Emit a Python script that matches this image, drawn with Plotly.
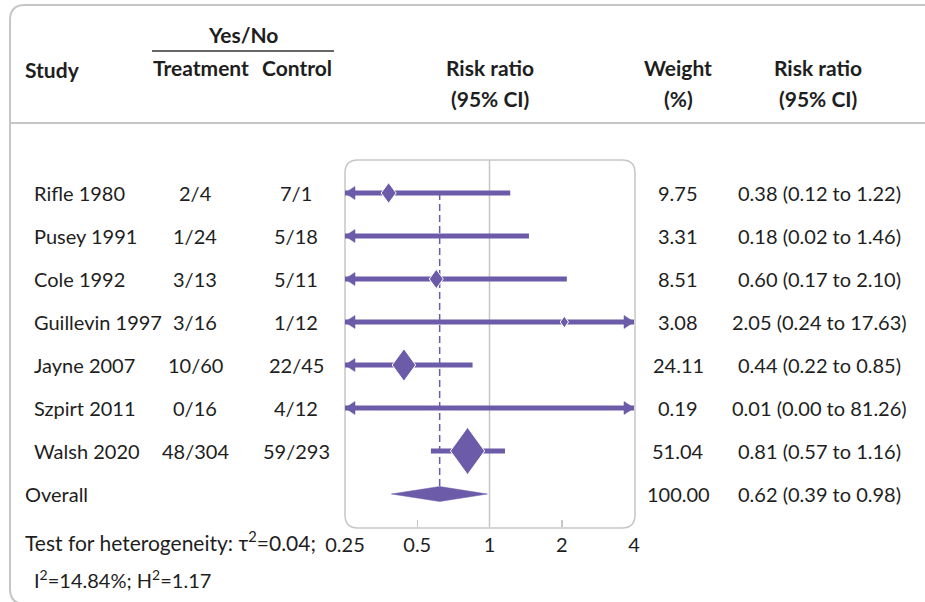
import math
import plotly.graph_objects as go

# ---------------- data ----------------
studies = ["Rifle 1980", "Pusey 1991", "Cole 1992", "Guillevin 1997",
           "Jayne 2007", "Szpirt 2011", "Walsh 2020"]
treatment = ["2/4", "1/24", "3/13", "3/16", "10/60", "0/16", "48/304"]
control = ["7/1", "5/18", "5/11", "1/12", "22/45", "4/12", "59/293"]
rr = [0.38, 0.18, 0.60, 2.05, 0.44, 0.01, 0.81]
rr_lo = [0.12, 0.02, 0.17, 0.24, 0.22, 0.00, 0.57]
rr_hi = [1.22, 1.46, 2.10, 17.63, 0.85, 81.26, 1.16]
weights = [9.75, 3.31, 8.51, 3.08, 24.11, 0.19, 51.04]

overall_label = "Overall"
overall_rr, overall_lo, overall_hi, overall_w = 0.62, 0.39, 0.98, 100.00

tick_vals = [0.25, 0.5, 1, 2, 4]
tick_text = ["0.25", "0.5", "1", "2", "4"]
minor_tick_vals = [0.5, 2]

# ---------------- layout constants ----------------
W, H = 925, 602
BOX_L, BOX_R, BOX_T, BOX_B = 345, 634, 160, 527
ROW0, ROW_STEP = 193, 43
X_MIN, X_MAX = tick_vals[0], tick_vals[-1]
PURPLE = "#6b5ba8"
GRAY = "#c6c6c6"
TEXT = "#1e1e1e"
FONT = "Lato"
FS = 20
HFS = 21

px_per_oct = (BOX_R - BOX_L) / math.log2(X_MAX / X_MIN)
y_top = -(ROW0 - BOX_T) / ROW_STEP
y_bot = (BOX_B - ROW0) / ROW_STEP


def xoff(x, dpx):
    return x * 2 ** (dpx / px_per_oct)


def yoff(dpx):
    return dpx / ROW_STEP


def P(x, y):
    return f"{x / W:.5f},{1 - y / H:.5f}"


def round_rect(x0, y0, x1, y1, r):
    return (f"M{P(x0 + r, y0)} L{P(x1 - r, y0)} Q{P(x1, y0)} {P(x1, y0 + r)} "
            f"L{P(x1, y1 - r)} Q{P(x1, y1)} {P(x1 - r, y1)} L{P(x0 + r, y1)} "
            f"Q{P(x0, y1)} {P(x0, y1 - r)} L{P(x0, y0 + r)} Q{P(x0, y0)} {P(x0 + r, y0)} Z")


fig = go.Figure()

# reference line at 1
fig.add_trace(go.Scatter(x=[1, 1], y=[y_top, y_bot], mode="lines",
                         line=dict(color=GRAY, width=1.5), hoverinfo="skip"))

n = len(studies)
ov_row = n
ov_half_h = yoff(7.5)

# dashed overall line
fig.add_trace(go.Scatter(x=[overall_rr, overall_rr], y=[0, ov_row - ov_half_h],
                         mode="lines", line=dict(color=PURPLE, width=1.5, dash="7px,4px"),
                         hoverinfo="skip"))

ARROW_LEN, ARROW_HALF = 10, 6.5

for i in range(n):
    x0 = max(rr_lo[i], X_MIN)
    x1 = min(rr_hi[i], X_MAX)
    fig.add_trace(go.Scatter(x=[x0, x1], y=[i, i], mode="lines",
                             line=dict(color=PURPLE, width=5), hoverinfo="skip"))
    if rr_lo[i] < X_MIN:
        fig.add_trace(go.Scatter(
            x=[X_MIN, xoff(X_MIN, ARROW_LEN), xoff(X_MIN, ARROW_LEN), X_MIN],
            y=[i, i - yoff(ARROW_HALF), i + yoff(ARROW_HALF), i],
            mode="lines", fill="toself", fillcolor=PURPLE,
            line=dict(color=PURPLE, width=0.5), hoverinfo="skip"))
    if rr_hi[i] > X_MAX:
        fig.add_trace(go.Scatter(
            x=[X_MAX, xoff(X_MAX, -ARROW_LEN), xoff(X_MAX, -ARROW_LEN), X_MAX],
            y=[i, i - yoff(ARROW_HALF), i + yoff(ARROW_HALF), i],
            mode="lines", fill="toself", fillcolor=PURPLE,
            line=dict(color=PURPLE, width=0.5), hoverinfo="skip"))
    if X_MIN <= rr[i] <= X_MAX:
        hw = 2.4 * math.sqrt(weights[i])
        hh = 1.38 * hw
        c = rr[i]
        fig.add_trace(go.Scatter(
            x=[xoff(c, -hw), c, xoff(c, hw), c, xoff(c, -hw)],
            y=[i, i - yoff(hh), i, i + yoff(hh), i],
            mode="lines", fill="toself", fillcolor=PURPLE,
            line=dict(color="white", width=1), hoverinfo="skip"))

# overall diamond
fig.add_trace(go.Scatter(
    x=[overall_lo, overall_rr, overall_hi, overall_rr, overall_lo],
    y=[ov_row, ov_row - ov_half_h, ov_row, ov_row + ov_half_h, ov_row],
    mode="lines", fill="toself", fillcolor=PURPLE,
    line=dict(color=PURPLE, width=0.5), hoverinfo="skip"))

# invisible trace for overlay tick axis
fig.add_trace(go.Scatter(x=[1], y=[0], xaxis="x2", mode="markers",
                         marker=dict(opacity=0), hoverinfo="skip"))

# ---------------- shapes ----------------
shapes = [
    dict(type="path", xref="paper", yref="paper", path=round_rect(10, 5, 960, 604, 15),
         line=dict(color=GRAY, width=2), layer="below"),
    dict(type="line", xref="paper", yref="paper", x0=10 / W, x1=1, y0=1 - 123 / H, y1=1 - 123 / H,
         line=dict(color=GRAY, width=2)),
    dict(type="path", xref="paper", yref="paper",
         path=round_rect(BOX_L, BOX_T, BOX_R + 1, BOX_B + 1, 13),
         line=dict(color=GRAY, width=1.5), layer="below"),
    dict(type="line", xref="paper", yref="paper", x0=152 / W, x1=334 / W, y0=1 - 51 / H, y1=1 - 51 / H,
         line=dict(color="#333333", width=1.5)),
]

# ---------------- text ----------------
ann = []


def add_text(text, x, y, xanchor="center", bold=False, size=FS):
    ann.append(dict(text=f"<b>{text}</b>" if bold else text, x=x / W, y=1 - y / H,
                    xref="paper", yref="paper", xanchor=xanchor, yanchor="middle",
                    showarrow=False, font=dict(family=FONT, size=size, color=TEXT)))


add_text("Yes/No", 243, 34, bold=True, size=HFS)
add_text("Study", 23, 69, "left", bold=True, size=HFS)
add_text("Treatment", 151, 68, "left", bold=True, size=HFS)
add_text("Control", 334, 68, "right", bold=True, size=HFS)
add_text("Risk ratio", 490, 68, bold=True, size=HFS)
add_text("(95% CI)", 490, 98, bold=True, size=HFS)
add_text("Weight", 678, 68, bold=True, size=HFS)
add_text("(%)", 678, 98, bold=True, size=HFS)
add_text("Risk ratio", 818, 68, bold=True, size=HFS)
add_text("(95% CI)", 818, 98, bold=True, size=HFS)

for i in range(n):
    y = ROW0 + i * ROW_STEP
    add_text(studies[i], 32, y, "left")
    add_text(treatment[i], 195, y)
    add_text(control[i], 296, y)
    add_text(f"{weights[i]:.2f}", 678, y)
    add_text(f"{rr[i]:.2f} ({rr_lo[i]:.2f} to {rr_hi[i]:.2f})", 819, y)

y_ov = ROW0 + n * ROW_STEP
add_text(overall_label, 23, y_ov, "left")
add_text(f"{overall_w:.2f}", 678, y_ov)
add_text(f"{overall_rr:.2f} ({overall_lo:.2f} to {overall_hi:.2f})", 819, y_ov)

add_text("Test for heterogeneity: τ<sup>2</sup>=0.04;", 23, 541, "left", size=21)
add_text("I<sup>2</sup>=14.84%; H<sup>2</sup>=1.17", 32, 579, "left")

fig.update_layout(
    width=W, height=H, autosize=False,
    margin=dict(l=0, r=0, t=0, b=0, pad=0, autoexpand=False),
    paper_bgcolor="white", plot_bgcolor="rgba(0,0,0,0)",
    showlegend=False,
    shapes=shapes, annotations=ann,
    xaxis=dict(type="log", range=[math.log10(X_MIN), math.log10(X_MAX)],
               domain=[BOX_L / W, BOX_R / W], anchor="y", automargin=False,
               tickvals=tick_vals, ticktext=tick_text, ticks="", ticklabelstandoff=4,
               showgrid=False, zeroline=False, showline=False,
               tickfont=dict(family=FONT, size=FS, color=TEXT)),
    xaxis2=dict(type="log", range=[math.log10(X_MIN), math.log10(X_MAX)],
                domain=[BOX_L / W, BOX_R / W], anchor="y", overlaying="x", automargin=False,
                tickvals=minor_tick_vals, ticks="inside", ticklen=7, tickwidth=1.5,
                tickcolor=GRAY, showticklabels=False,
                showgrid=False, zeroline=False, showline=False),
    yaxis=dict(range=[y_bot, y_top], domain=[1 - BOX_B / H, 1 - BOX_T / H],
               visible=False, automargin=False),
)

fig.write_html("out.html",
               config={"displayModeBar": False, "staticPlot": True},
               post_script="document.body.style.margin='0px';"
                           "document.documentElement.style.overflow='hidden';")
